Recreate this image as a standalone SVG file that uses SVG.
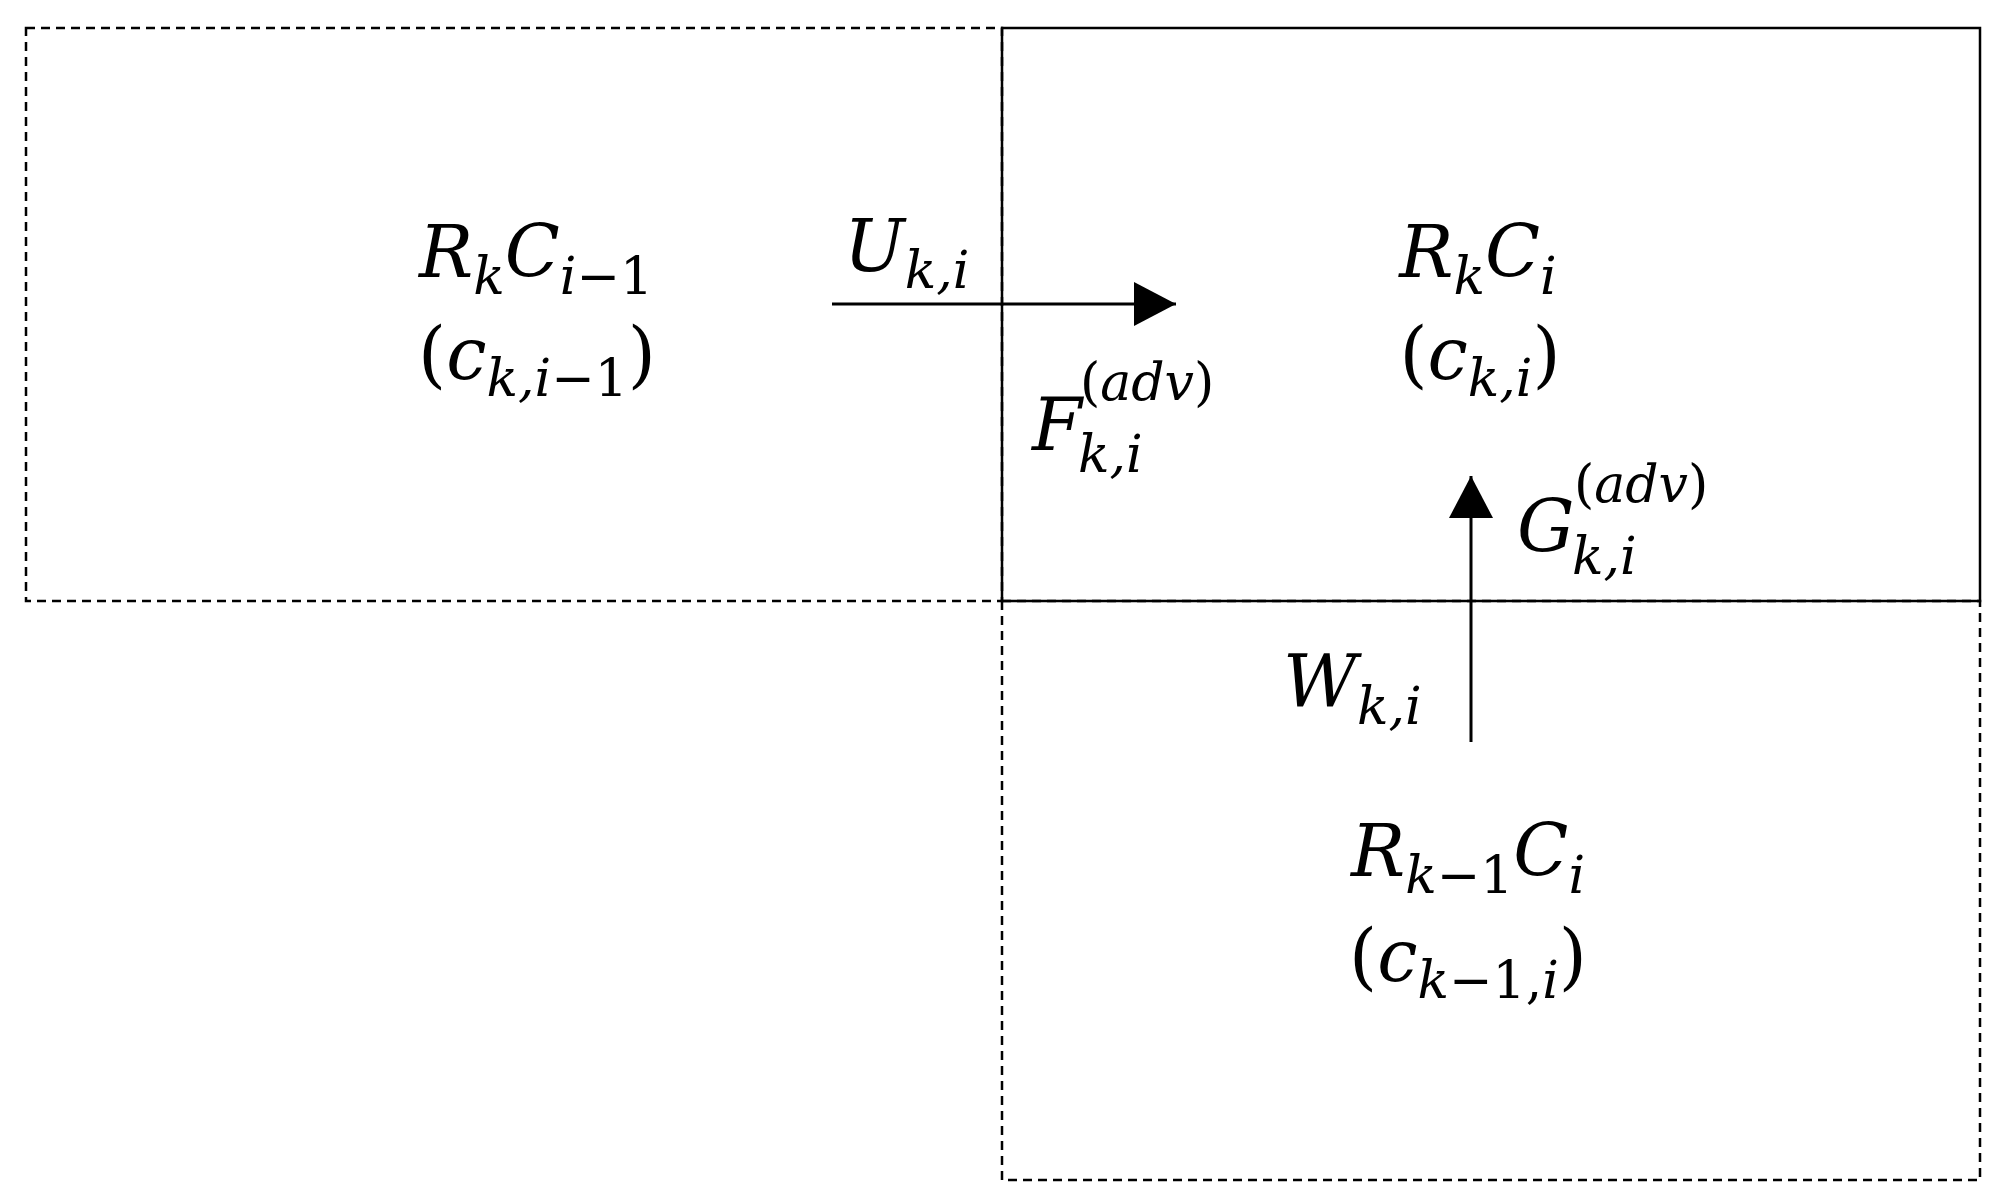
<svg xmlns="http://www.w3.org/2000/svg" width="2006" height="1204" viewBox="0 0 2006 1204">
<style>
.d{fill:none;stroke:#000;stroke-width:2.5;stroke-dasharray:9 6}
.s{fill:none;stroke:#000;stroke-width:2.5}
text{font-family:"DejaVu Serif","Liberation Serif",serif;font-style:italic;font-size:72px;fill:#000}
.sb{font-size:52px}
.up{font-style:normal}
</style>
<defs><marker id="a" markerWidth="42" markerHeight="44" refX="42" refY="22" orient="auto" markerUnits="userSpaceOnUse" viewBox="0 0 42 44"><path d="M0,0L42,22L0,44z"/></marker></defs>
<rect width="2006" height="1204" fill="#fff"/>
<g id="left"><rect class="d" x="26" y="28" width="976" height="573"/>
<text x="536" y="277" text-anchor="middle">R<tspan class="sb" dy="17">k</tspan><tspan dy="-17">C</tspan><tspan class="sb" dy="17">i<tspan class="up">−1</tspan></tspan></text>
<text x="537" y="379" text-anchor="middle"><tspan class="up">(</tspan>c<tspan class="sb" dy="17">k,i<tspan class="up">−1</tspan></tspan><tspan class="up" dy="-17">)</tspan></text></g>
<g id="bottom"><rect class="d" x="1002" y="601" width="978" height="579"/>
<text x="1468" y="876" text-anchor="middle">R<tspan class="sb" dy="17">k<tspan class="up">−1</tspan></tspan><tspan dy="-17">C</tspan><tspan class="sb" dy="17">i</tspan></text>
<text x="1468" y="981" text-anchor="middle"><tspan class="up">(</tspan>c<tspan class="sb" dy="17">k<tspan class="up">−1,</tspan>i</tspan><tspan class="up" dy="-17">)</tspan></text></g>
<g id="main"><rect class="s" x="1002" y="28" width="978" height="573"/>
<text x="1478" y="277" text-anchor="middle">R<tspan class="sb" dy="17">k</tspan><tspan dy="-17">C</tspan><tspan class="sb" dy="17">i</tspan></text>
<text x="1480" y="379" text-anchor="middle"><tspan class="up">(</tspan>c<tspan class="sb" dy="17">k,i</tspan><tspan class="up" dy="-17">)</tspan></text></g>
<g id="connectors">
<line class="s" x1="832" y1="304" x2="1176" y2="304" marker-end="url(#a)" style="stroke-width:3"/>
<line class="s" x1="1471" y1="742" x2="1471" y2="476" marker-end="url(#a)" style="stroke-width:3"/>
</g>
<g id="labels">
<text x="844" y="271">U<tspan class="sb" dy="17">k,i</tspan></text>
<text x="1032" y="450">F<tspan class="sb" x="1078" y="472">k,i</tspan><tspan class="sb" x="1080" y="400"><tspan class="up">(</tspan>adv<tspan class="up">)</tspan></tspan></text>
<text x="1517" y="552">G<tspan class="sb" x="1572" y="574">k,i</tspan><tspan class="sb" x="1574" y="502"><tspan class="up">(</tspan>adv<tspan class="up">)</tspan></tspan></text>
<text x="1283" y="707">W<tspan class="sb" dy="17">k,i</tspan></text>
</g>
</svg>
